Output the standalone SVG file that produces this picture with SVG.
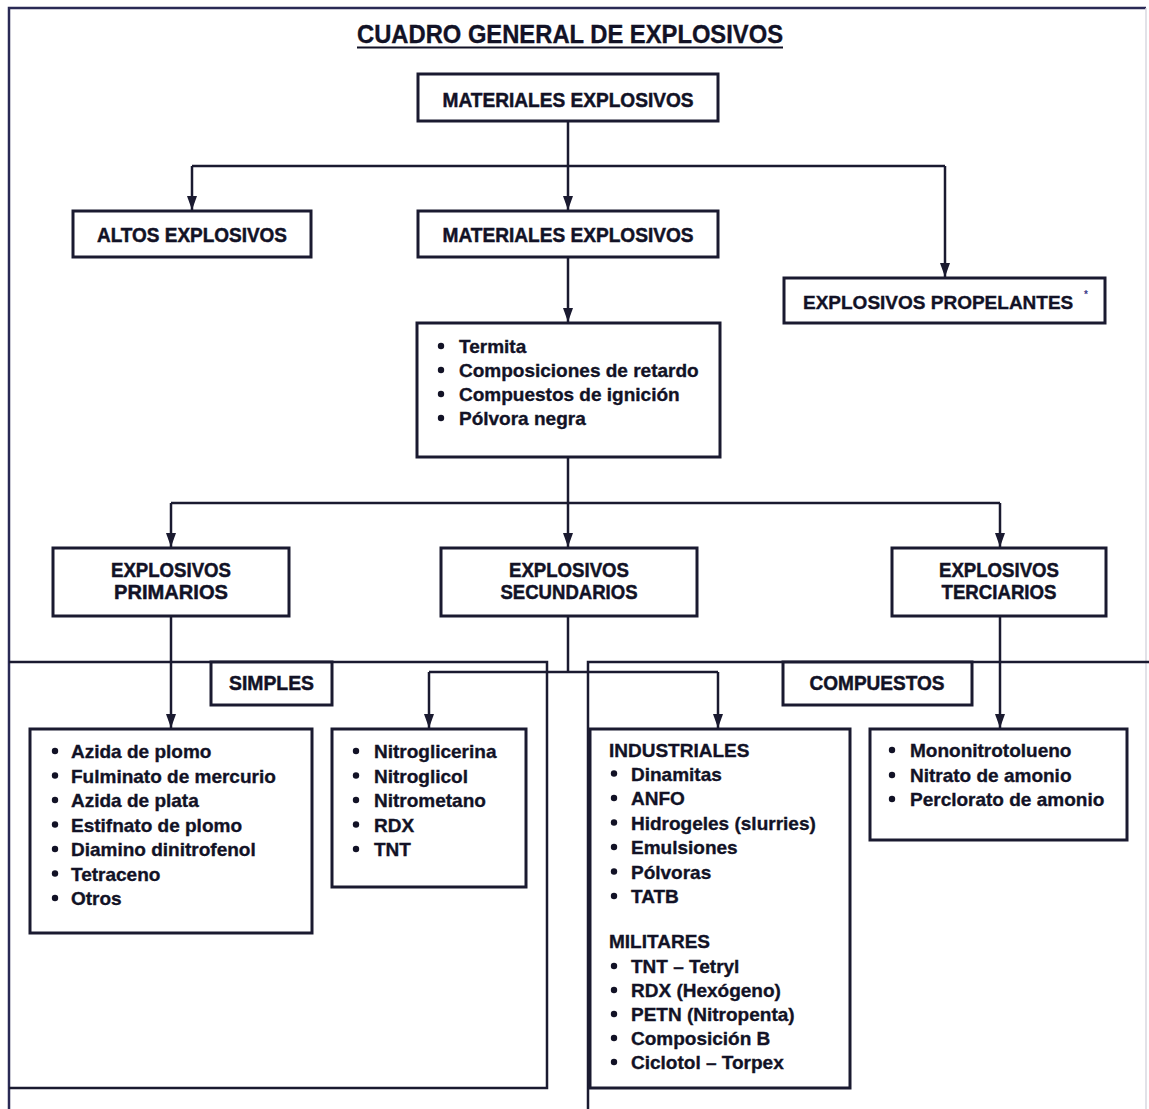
<svg xmlns="http://www.w3.org/2000/svg" width="1149" height="1109" viewBox="0 0 1149 1109">
  <style>
    text { font-family: "Liberation Sans", Arial, sans-serif; font-weight: bold; fill: #121226; stroke: #121226; stroke-width: 0.35; }
    .title { font-size: 25px; }
    .lbl { font-size: 21px; text-anchor: middle; stroke-width: 0.5; }
    .item { font-size: 19px; }
    .box { fill: #ffffff; stroke: #1a1a30; stroke-width: 3; }
    .frame { fill: none; stroke: #2a2a55; stroke-width: 2.5; }
    .region { fill: none; stroke: #1a1a30; stroke-width: 2.5; }
    .conn { fill: none; stroke: #1a1a30; stroke-width: 2.5; }
    .arrow { fill: none; stroke: #1a1a30; stroke-width: 2.5; marker-end: url(#head); }
    .dot { fill: #121226; }
  </style>
  <defs>
    <marker id="head" markerUnits="userSpaceOnUse" markerWidth="14" markerHeight="10" viewBox="0 0 14 10" refX="14" refY="5" orient="auto">
      <path d="M0,0 L14,5 L0,10 z" fill="#1a1a30"/>
    </marker>
  </defs>

  <rect width="1149" height="1109" fill="#ffffff"/>

  <!-- outer page frame -->
  <path class="frame" d="M9,1109 V8 H1146"/>
  <line x1="1146" y1="8" x2="1146" y2="1109" stroke="#d8d8e0" stroke-width="1.5"/>

  <!-- heading -->
  <text class="title" x="570" y="43" text-anchor="middle" textLength="426" lengthAdjust="spacingAndGlyphs">CUADRO GENERAL DE EXPLOSIVOS</text>
  <line x1="357" y1="47.5" x2="783" y2="47.5" stroke="#121226" stroke-width="2"/>

  <!-- lower regions: simples / compuestos -->
  <g id="regions">
    <path class="region" d="M9,662 H547 V1088 H9"/>
    <path class="region" d="M588,1109 V662 H1149"/>
  </g>

  <!-- connectors -->
  <g id="connectors">
    <path class="conn" d="M568,121 V166 M192,166 H945"/>
    <path class="arrow" d="M192,166 V210"/>
    <path class="arrow" d="M568,166 V210"/>
    <path class="arrow" d="M945,166 V277"/>
    <path class="arrow" d="M568,257 V322"/>
    <path class="conn" d="M568,457 V503 M171,503 H1000"/>
    <path class="arrow" d="M171,503 V547"/>
    <path class="arrow" d="M568,503 V547"/>
    <path class="arrow" d="M1000,503 V547"/>
    <path class="arrow" d="M171,616 V728"/>
    <path class="conn" d="M568,616 V672 M429,672 H718"/>
    <path class="arrow" d="M429,672 V728"/>
    <path class="arrow" d="M718,672 V728"/>
    <path class="arrow" d="M1000,616 V728"/>
  </g>

  <g id="materiales-1">
    <rect class="box" x="418" y="74" width="300" height="47"/>
    <text class="lbl" x="568" y="107" textLength="251" lengthAdjust="spacingAndGlyphs">MATERIALES EXPLOSIVOS</text>
  </g>

  <g id="altos">
    <rect class="box" x="73" y="211" width="238" height="46"/>
    <text class="lbl" x="192" y="242" textLength="190" lengthAdjust="spacingAndGlyphs">ALTOS EXPLOSIVOS</text>
  </g>

  <g id="materiales-2">
    <rect class="box" x="418" y="211" width="300" height="46"/>
    <text class="lbl" x="568" y="242" textLength="251" lengthAdjust="spacingAndGlyphs">MATERIALES EXPLOSIVOS</text>
  </g>

  <g id="propelantes">
    <rect class="box" x="784" y="278" width="321" height="45"/>
    <text x="803" y="309" font-size="19" stroke-width="0.5">EXPLOSIVOS PROPELANTES</text>
    <text x="1084" y="298" font-size="10" style="fill:#3a3a88;stroke:none">*</text>
  </g>

  <g id="bajos">
    <rect class="box" x="417" y="323" width="303" height="134"/>
    <circle class="dot" cx="441" cy="346" r="3.2"/>
    <circle class="dot" cx="441" cy="370" r="3.2"/>
    <circle class="dot" cx="441" cy="394" r="3.2"/>
    <circle class="dot" cx="441" cy="418" r="3.2"/>
    <text class="item" x="459" y="353">Termita</text>
    <text class="item" x="459" y="377">Composiciones de retardo</text>
    <text class="item" x="459" y="401">Compuestos de ignición</text>
    <text class="item" x="459" y="425">Pólvora negra</text>
  </g>

  <g id="primarios">
    <rect class="box" x="53" y="548" width="236" height="68"/>
    <text class="lbl" x="171" y="577" textLength="120" lengthAdjust="spacingAndGlyphs">EXPLOSIVOS</text>
    <text class="lbl" x="171" y="599" textLength="114" lengthAdjust="spacingAndGlyphs">PRIMARIOS</text>
  </g>

  <g id="secundarios">
    <rect class="box" x="441" y="548" width="256" height="68"/>
    <text class="lbl" x="569" y="577" textLength="120" lengthAdjust="spacingAndGlyphs">EXPLOSIVOS</text>
    <text class="lbl" x="569" y="599" textLength="137" lengthAdjust="spacingAndGlyphs">SECUNDARIOS</text>
  </g>

  <g id="terciarios">
    <rect class="box" x="892" y="548" width="214" height="68"/>
    <text class="lbl" x="999" y="577" textLength="120" lengthAdjust="spacingAndGlyphs">EXPLOSIVOS</text>
    <text class="lbl" x="999" y="599" textLength="115" lengthAdjust="spacingAndGlyphs">TERCIARIOS</text>
  </g>

  <g id="simples">
    <rect class="box" x="211" y="662" width="121" height="43"/>
    <text class="lbl" x="271.5" y="690" textLength="85" lengthAdjust="spacingAndGlyphs">SIMPLES</text>
  </g>

  <g id="compuestos">
    <rect class="box" x="783" y="662" width="189" height="43"/>
    <text class="lbl" x="877" y="690" textLength="135" lengthAdjust="spacingAndGlyphs">COMPUESTOS</text>
  </g>

  <g id="lista-primarios">
    <rect class="box" x="30" y="729" width="282" height="204"/>
    <circle class="dot" cx="55" cy="751" r="3.2"/>
    <circle class="dot" cx="55" cy="775.5" r="3.2"/>
    <circle class="dot" cx="55" cy="800" r="3.2"/>
    <circle class="dot" cx="55" cy="824.5" r="3.2"/>
    <circle class="dot" cx="55" cy="849" r="3.2"/>
    <circle class="dot" cx="55" cy="873.5" r="3.2"/>
    <circle class="dot" cx="55" cy="898" r="3.2"/>
    <text class="item" x="71" y="758">Azida de plomo</text>
    <text class="item" x="71" y="782.5">Fulminato de mercurio</text>
    <text class="item" x="71" y="807">Azida de plata</text>
    <text class="item" x="71" y="831.5">Estifnato de plomo</text>
    <text class="item" x="71" y="856">Diamino dinitrofenol</text>
    <text class="item" x="71" y="880.5">Tetraceno</text>
    <text class="item" x="71" y="905">Otros</text>
  </g>

  <g id="lista-simples">
    <rect class="box" x="332" y="729" width="194" height="158"/>
    <circle class="dot" cx="356" cy="751" r="3.2"/>
    <circle class="dot" cx="356" cy="775.5" r="3.2"/>
    <circle class="dot" cx="356" cy="800" r="3.2"/>
    <circle class="dot" cx="356" cy="824.5" r="3.2"/>
    <circle class="dot" cx="356" cy="849" r="3.2"/>
    <text class="item" x="374" y="758">Nitroglicerina</text>
    <text class="item" x="374" y="782.5">Nitroglicol</text>
    <text class="item" x="374" y="807">Nitrometano</text>
    <text class="item" x="374" y="831.5">RDX</text>
    <text class="item" x="374" y="856">TNT</text>
  </g>

  <g id="lista-compuestos">
    <rect class="box" x="590" y="729" width="260" height="359"/>
    <text class="item" x="609" y="757">INDUSTRIALES</text>
    <circle class="dot" cx="614" cy="773.5" r="3.2"/>
    <circle class="dot" cx="614" cy="798" r="3.2"/>
    <circle class="dot" cx="614" cy="822.5" r="3.2"/>
    <circle class="dot" cx="614" cy="847" r="3.2"/>
    <circle class="dot" cx="614" cy="871.5" r="3.2"/>
    <circle class="dot" cx="614" cy="896" r="3.2"/>
    <text class="item" x="631" y="780.5">Dinamitas</text>
    <text class="item" x="631" y="805">ANFO</text>
    <text class="item" x="631" y="829.5">Hidrogeles (slurries)</text>
    <text class="item" x="631" y="854">Emulsiones</text>
    <text class="item" x="631" y="878.5">Pólvoras</text>
    <text class="item" x="631" y="903">TATB</text>
    <text class="item" x="609" y="948">MILITARES</text>
    <circle class="dot" cx="614" cy="966" r="3.2"/>
    <circle class="dot" cx="614" cy="990" r="3.2"/>
    <circle class="dot" cx="614" cy="1014" r="3.2"/>
    <circle class="dot" cx="614" cy="1038" r="3.2"/>
    <circle class="dot" cx="614" cy="1062" r="3.2"/>
    <text class="item" x="631" y="973">TNT – Tetryl</text>
    <text class="item" x="631" y="997">RDX (Hexógeno)</text>
    <text class="item" x="631" y="1021">PETN (Nitropenta)</text>
    <text class="item" x="631" y="1045">Composición B</text>
    <text class="item" x="631" y="1069">Ciclotol – Torpex</text>
  </g>

  <g id="lista-terciarios">
    <rect class="box" x="870" y="729" width="257" height="111"/>
    <circle class="dot" cx="892" cy="750" r="3.2"/>
    <circle class="dot" cx="892" cy="775" r="3.2"/>
    <circle class="dot" cx="892" cy="799" r="3.2"/>
    <text class="item" x="910" y="757">Mononitrotolueno</text>
    <text class="item" x="910" y="782">Nitrato de amonio</text>
    <text class="item" x="910" y="806">Perclorato de amonio</text>
  </g>
</svg>
